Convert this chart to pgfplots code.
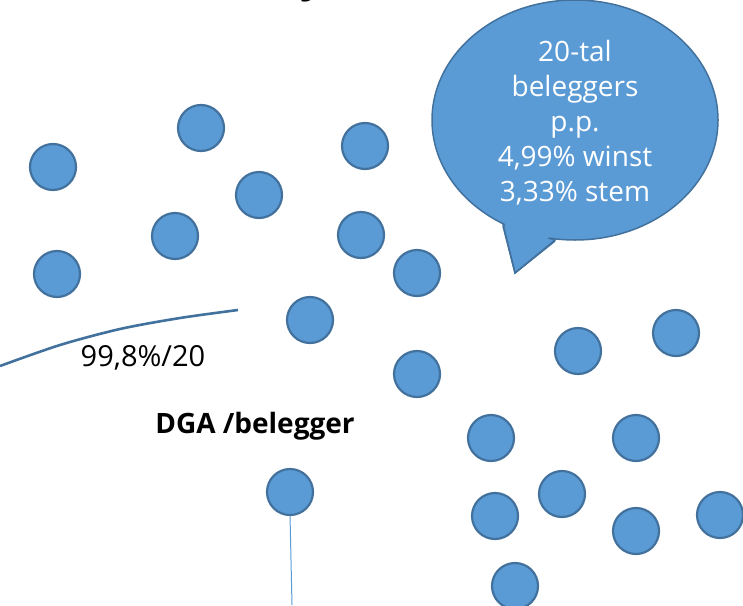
\documentclass[border=0pt]{standalone}
\usepackage{pgfplots}
\pgfplotsset{compat=1.18}
\usepackage{fontspec}
\setmainfont{Open Sans}
\definecolor{dotfill}{HTML}{5B9BD5}
\definecolor{dotline}{HTML}{41719C}
\begin{document}
\begin{tikzpicture}
\begin{axis}[
  scale only axis, width=743pt, height=605pt,
  xmin=0, xmax=743, ymin=0, ymax=605, y dir=reverse,
  hide axis, clip=false,
]
% top title remnant
\node[anchor=base, font=\fontsize{44}{50}\selectfont\bfseries] at (axis cs:313,-8.5) {y};
% curve
\addplot[dotline, line width=2.6pt, smooth, no marks] coordinates {(0,366) (60,345) (120,329) (180,318) (238,310)};
% vertical line
\addplot[dotfill, line width=1pt, no marks] coordinates {(290,515) (292,605)};
% dots
\addplot[only marks, mark=*, mark size=23pt, mark options={fill=dotfill, draw=dotline, line width=2.2pt}] coordinates {
(53,167) (201,128) (365,146) (259,195) (175,236) (361,235) (57,274) (417,273)
(310,320) (417,374) (578,351) (676,333) (491,438) (636,438) (290,492) (562,494)
(495,516) (636,531) (720,515) (515,586)};
% speech bubble
\fill[dotfill, draw=dotline, line width=1.5pt] (axis cs:503,224) -- (axis cs:515,273) -- (axis cs:555,240) -- cycle;
\draw[fill=dotfill, draw=dotline, line width=1.5pt] (axis cs:575,120) ellipse [x radius=143pt, y radius=120pt];
\fill[dotfill] (axis cs:504,220) -- (axis cs:514,262) -- (axis cs:554,234) -- cycle;
\draw[dotline, line width=1.5pt] (axis cs:503,226) -- (axis cs:515,273) -- (axis cs:555,241);
\node[white, align=center, font=\fontsize{28}{35}\selectfont] at (axis cs:575,123)
  {20-tal\\beleggers\\p.p.\\4,99\% winst\\3,33\% stem};
% labels
\node[font=\fontsize{29}{32}\selectfont] at (axis cs:143,358) {99,8\%/20};
\node[font=\fontsize{28}{32}\selectfont\bfseries] at (axis cs:255,426) {DGA /belegger};
\coordinate (tl) at (axis cs:0,0);
\coordinate (br) at (axis cs:743,605);
\end{axis}
\pgfresetboundingbox
\path[use as bounding box] (tl) rectangle (br);
\end{tikzpicture}
\end{document}
